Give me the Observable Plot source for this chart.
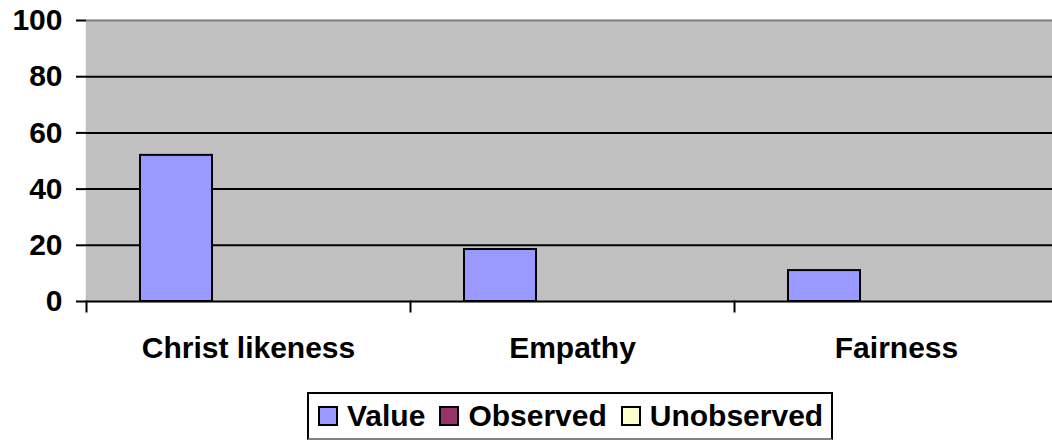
<!DOCTYPE html>
<html>
<head>
<meta charset="utf-8">
<script src="https://cdn.jsdelivr.net/npm/d3@7"></script>
<script src="https://cdn.jsdelivr.net/npm/@observablehq/plot@0.6"></script>
<style>
  html, body { margin: 0; padding: 0; background: white; overflow: hidden; width: 1052px; height: 440px; }
  #wrap { position: relative; width: 1052px; height: 440px; overflow: hidden; font-family: "Liberation Sans", Arial, sans-serif; }
  #chart svg { max-width: none !important; }
  #legend { position: absolute; left: 307px; top: 392px; width: 522px; height: 44px; border: 2px solid black; border-bottom-color: #808080; display: flex; align-items: center; font-weight: bold; font-size: 30px; box-sizing: content-box; }
  .item { display: flex; align-items: center; margin-left: 14px; }
  .item:first-child { margin-left: 9px; }
  .sw { width: 16px; height: 16px; border: 2px solid black; margin-right: 9px; }
</style>
</head>
<body>
<div id="wrap"><div id="chart"></div><div id="legend"></div></div>
<script>
const categories = ["Christ likeness", "Empathy", "Fairness"];
const series = ["Value", "Observed", "Unobserved"];
const valueSeries = [52, 18.5, 11];
const observedSeries = [0, 0, 0];
const unobservedSeries = [0, 0, 0];
const seriesColors = ["#9999FF", "#993366", "#FFFFCC"];
const yTicks = [0, 20, 40, 60, 80, 100];
const blackGrid = [20, 40, 60, 80];

const seriesValues = [valueSeries, observedSeries, unobservedSeries];
const data = categories.flatMap((c, i) =>
  series.map((s, j) => ({category: c, series: s, value: seriesValues[j][i]}))
);

const chart = Plot.plot({
  width: 1058,
  height: 390,
  marginLeft: 86,
  marginRight: 0,
  marginTop: 20,
  marginBottom: 89,
  style: {fontFamily: "'Liberation Sans', Arial, sans-serif", fontSize: "30px", fontWeight: "bold", color: "black", background: "white", overflow: "hidden", maxWidth: "none"},
  fx: {domain: categories, padding: 0, axis: null},
  x: {domain: series, paddingInner: 0, paddingOuter: 0.75, axis: null},
  y: {domain: [0, 100], axis: null},
  color: {domain: series, range: seriesColors},
  marks: [
    Plot.frame({fill: "#C0C0C0", stroke: "#C0C0C0", strokeWidth: 1.5}),
    Plot.ruleY(blackGrid, {stroke: "black", strokeWidth: 2}),
    Plot.ruleY([100], {stroke: "#808080", strokeWidth: 2}),
    Plot.barY(data, {fx: "category", x: "series", y: "value", fill: "series", stroke: "black", strokeWidth: 2}),
    Plot.ruleY([0], {stroke: "black", strokeWidth: 2}),
    Plot.frame({anchor: "left", insetTop: 281, insetBottom: -10, stroke: "black", strokeWidth: 2}),
    Plot.axisY({ticks: yTicks, tickSize: 10, tickPadding: 14, tickFormat: d => d, line: true, strokeWidth: 2, label: null}),
    Plot.axisFx({anchor: "bottom", tickSize: 0, tickPadding: 35, label: null})
  ]
});
document.getElementById("chart").appendChild(chart);

const legend = document.getElementById("legend");
series.forEach((s, i) => {
  const item = document.createElement("div");
  item.className = "item";
  const sw = document.createElement("div");
  sw.className = "sw";
  sw.style.background = seriesColors[i];
  const t = document.createElement("span");
  t.textContent = s;
  item.appendChild(sw);
  item.appendChild(t);
  legend.appendChild(item);
});
</script>
</body>
</html>
